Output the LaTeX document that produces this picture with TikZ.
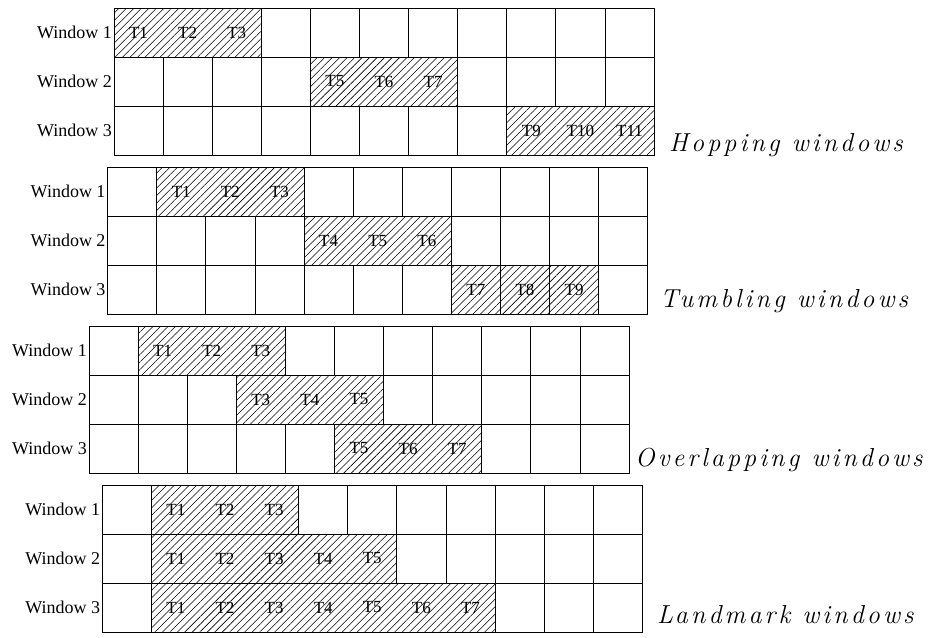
\documentclass[tikz,border=0pt]{standalone}
\usepackage{fontspec}
\newfontfamily\timesfont{Liberation Serif}
\newfontfamily\titlefont[LetterSpace=12]{Latin Modern Roman}
\usetikzlibrary{patterns.meta}
\tikzset{
  cell/.style={draw=black, line width=0.9pt},
  hatchbox/.style={draw=black, line width=0.9pt, fill=white,
    postaction={pattern={Lines[angle=45,distance=5.3pt,line width=0.55pt]}, pattern color=black}},
  wlabel/.style={anchor=east, inner sep=1pt, font=\timesfont\fontsize{18}{20}\selectfont},
  tlabel/.style={inner sep=0pt, font=\timesfont\fontsize{17}{19}\selectfont},
  title/.style={anchor=base west, inner sep=0pt, font=\titlefont\itshape\fontsize{26}{29}\selectfont}
}
\newcommand{\wgrid}[3]{% left, top, prefix
  \foreach \r in {0,1,2} {
    \foreach \c in {0,...,10} {
      \draw[cell] ({#1+\c*49.1},{#2+\r*49}) rectangle ++(49.1,49);
    }
    \pgfmathtruncatemacro{\rr}{\r+1}
    \node[wlabel] (#3w\rr) at (#1-1,{#2+\r*49+24.5}) {Window \rr};
  }
}
% left, top, row, firstcol, lastcol, prefix, labels
\newcommand{\hatchrow}[7]{%
  \draw[hatchbox] ({#1+#4*49.1},{#2+#3*49}) rectangle ({#1+(#5+1)*49.1},{#2+(#3+1)*49});
  \foreach \lab [count=\k from 0] in {#7} {
    \pgfmathsetmacro{\cx}{#1+(#4+\k)*49.1+24.5}
    \node[tlabel] (#6r#3c\k) at (\cx,{#2+#3*49+24.5}) {\lab};
  }
}
\begin{document}
\begin{tikzpicture}[x=1pt,y=-1pt]
\useasboundingbox[fill=white] (0,0) rectangle (934,637);
% Hopping
\wgrid{114}{8}{h}
\hatchrow{114}{8}{0}{0}{2}{h}{T1,T2,T3}
\hatchrow{114}{8}{1}{4}{6}{h}{T5,T6,T7}
\hatchrow{114}{8}{2}{8}{10}{h}{T9,T10,T11}
\node[title] (th) at (669,151) {Hopping windows};
% Tumbling
\wgrid{107.7}{167.3}{t}
\hatchrow{107.7}{167.3}{0}{1}{3}{t}{T1,T2,T3}
\hatchrow{107.7}{167.3}{1}{4}{6}{t}{T4,T5,T6}
\hatchrow{107.7}{167.3}{2}{7}{7}{ta}{T7}
\hatchrow{107.7}{167.3}{2}{8}{8}{tb}{T8}
\hatchrow{107.7}{167.3}{2}{9}{9}{tc}{T9}
\node[title] (tt) at (660,307) {Tumbling windows};
% Overlapping
\wgrid{89}{326}{o}
\hatchrow{89}{326}{0}{1}{3}{o}{T1,T2,T3}
\hatchrow{89}{326}{1}{3}{5}{o}{T3,T4,T5}
\hatchrow{89}{326}{2}{5}{7}{o}{T5,T6,T7}
\node[title] (to) at (635,466) {Overlapping windows};
% Landmark
\wgrid{102.3}{485}{l}
\hatchrow{102.3}{485}{0}{1}{3}{l}{T1,T2,T3}
\hatchrow{102.3}{485}{1}{1}{5}{l}{T1,T2,T3,T4,T5}
\hatchrow{102.3}{485}{2}{1}{7}{l}{T1,T2,T3,T4,T5,T6,T7}
\node[title] (tl) at (657,623) {Landmark windows};
\end{tikzpicture}
\end{document}
